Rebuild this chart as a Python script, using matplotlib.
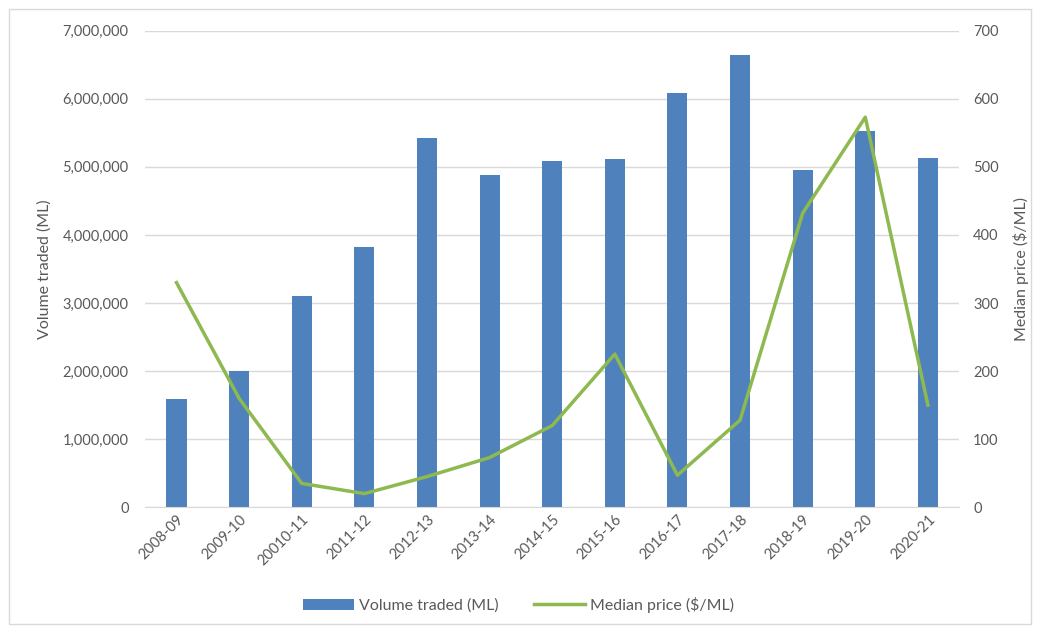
import matplotlib
matplotlib.use('Agg')
import matplotlib.pyplot as plt
from matplotlib.ticker import FuncFormatter, MultipleLocator
from matplotlib.patches import Rectangle

plt.rcParams['font.family'] = ['Lato', 'DejaVu Sans']

# 数据
years = ['2008-09', '2009-10', '20010-11', '2011-12', '2012-13', '2013-14', '2014-15',
         '2015-16', '2016-17', '2017-18', '2018-19', '2019-20', '2020-21']
volume = [1590000, 2000000, 3100000, 3820000, 5420000, 4880000, 5080000,
          5120000, 6090000, 6650000, 4950000, 5520000, 5130000]
price = [330, 160, 35, 20, 45, 73, 120, 225, 47, 128, 432, 573, 150]

text_c = '#595959'
bar_c = '#4f81bd'
line_c = '#8db94f'

fig = plt.figure(figsize=(10.37, 6.27), dpi=100)
fig.patches.append(Rectangle((0.009, 0.005), 0.985, 0.98, transform=fig.transFigure,
                             fill=False, edgecolor='#d9d9d9', lw=1))
ax = fig.add_axes([0.140, 0.191, 0.785, 0.760])
x = range(len(years))
ax.bar(x, volume, width=0.32, color=bar_c, label='Volume traded (ML)', zorder=2)
ax.set_ylim(0, 7000000)
ax.set_xlim(-0.5, len(years) - 0.5)
ax.yaxis.set_major_locator(MultipleLocator(1000000))
ax.yaxis.set_major_formatter(FuncFormatter(lambda v, p: f'{int(v):,}'))
ax.grid(axis='y', color='#d9d9d9', lw=1, zorder=0)
ax.set_xticks(list(x))
ax.set_xticklabels(years, rotation=45, ha='right', rotation_mode='anchor')
ax.set_ylabel('Volume traded (ML)', color=text_c, fontsize=11.5, labelpad=8)

ax2 = ax.twinx()
ax2.plot(x, price, color=line_c, lw=2.5, label='Median price ($/ML)')
ax2.set_ylim(0, 700)
ax2.yaxis.set_major_locator(MultipleLocator(100))
ax2.set_ylabel('Median price ($/ML)', color=text_c, fontsize=11.5, labelpad=10)

for a in (ax, ax2):
    for s in a.spines.values():
        s.set_visible(False)
    a.tick_params(length=0, colors=text_c, labelsize=10.5)
ax.tick_params(axis='y', pad=12)
ax2.tick_params(axis='y', pad=10)
ax.spines['bottom'].set_visible(True)
ax.spines['bottom'].set_color('#d9d9d9')

h1, l1 = ax.get_legend_handles_labels()
h2, l2 = ax2.get_legend_handles_labels()
leg = fig.legend(h1 + h2, l1 + l2, loc='center', bbox_to_anchor=(0.5, 0.035), ncol=2,
                 frameon=False, fontsize=11.5, handlelength=3.2, columnspacing=2.2,
                 handletextpad=0.3)
for t in leg.get_texts():
    t.set_color(text_c)

plt.savefig('out.png', dpi=100)
